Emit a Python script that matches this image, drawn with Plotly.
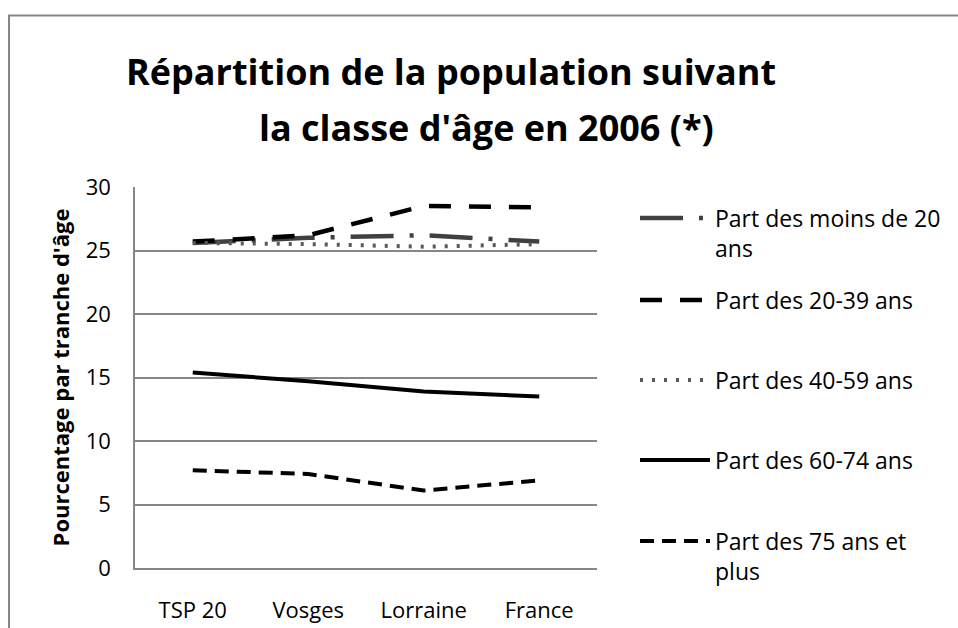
import plotly.graph_objects as go

categories = ["TSP 20", "Vosges", "Lorraine", "France"]
moins_20 = [25.6, 26.0, 26.2, 25.7]
ans_20_39 = [25.7, 26.2, 28.5, 28.4]
ans_40_59 = [25.6, 25.5, 25.3, 25.5]
ans_60_74 = [15.4, 14.7, 13.9, 13.5]
ans_75_plus = [7.7, 7.4, 6.1, 6.9]
y_ticks = [0, 5, 10, 15, 20, 25, 30]

names = ["Part des moins de 20<br>ans", "Part des 20-39 ans", "Part des 40-59 ans",
         "Part des 60-74 ans", "Part des 75 ans et<br>plus"]
series = [moins_20, ans_20_39, ans_40_59, ans_60_74, ans_75_plus]
styles = [
    dict(color="#404040", width=4.5, dash="43px,16px,4px,16px"),
    dict(color="#000000", width=4.5, dash="22px,18px"),
    dict(color="#595959", width=4, dash="3px,9px"),
    dict(color="#000000", width=4),
    dict(color="#000000", width=4, dash="14px,8px"),
]
legend_keys = ["legend", "legend2", "legend3", "legend4", "legend5"]
legend_y = [233, 300, 380, 460, 556]

W, H = 958, 628
fig = go.Figure()
for n, s, st, lk in zip(names, series, styles, legend_keys):
    fig.add_trace(go.Scatter(x=categories, y=s, mode="lines", name=n, line=st,
                             legend=lk))

font = "Open Sans, DejaVu Sans, sans-serif"
legends = {}
for lk, ly in zip(legend_keys, legend_y):
    legends[lk] = dict(x=635 / W, y=1 - ly / H, xanchor="left", yanchor="middle",
                       font=dict(size=23, color="black"), itemwidth=70, valign="top",
                       bgcolor="rgba(0,0,0,0)")

fig.update_layout(
    width=W, height=H,
    margin=dict(l=0, r=0, t=0, b=0, autoexpand=False),
    paper_bgcolor="white", plot_bgcolor="white",
    font=dict(family=font, size=22, color="black"),
    showlegend=True,
    xaxis=dict(domain=[135 / W, 597 / W], range=[-0.5, 3.5], showgrid=False,
               showline=True, linecolor="#868686", linewidth=1.5, ticks="",
               tickfont=dict(size=22), ticklabelstandoff=22, automargin=False),
    yaxis=dict(domain=[1 - 568 / H, 1 - 187 / H], range=[0, 30], tickvals=y_ticks,
               showgrid=True, gridcolor="#868686", gridwidth=1.5,
               showline=True, linecolor="#868686", linewidth=1.5, ticks="",
               tickfont=dict(size=22), ticklabelstandoff=18, zeroline=False,
               automargin=False,
               title=dict(text="<b>Pourcentage par tranche d'âge</b>",
                          font=dict(size=22), standoff=10)),
    shapes=[dict(type="rect", xref="paper", yref="paper",
                 x0=9 / W, x1=1.05, y0=-0.05, y1=1 - 15.5 / H,
                 line=dict(color="#868686", width=2))],
    annotations=[
        dict(text="<b>Répartition de la population suivant</b>", x=451 / W, y=1 - 72 / H,
             xref="paper", yref="paper", showarrow=False, xanchor="center", yanchor="middle",
             font=dict(size=36, color="black")),
        dict(text="<b>la classe d'âge en 2006 (*)</b>", x=486 / W, y=1 - 128 / H,
             xref="paper", yref="paper", showarrow=False, xanchor="center", yanchor="middle",
             font=dict(size=36, color="black")),
    ],
    **legends,
)
fig.write_html("out.html", config={"displayModeBar": False},
               post_script="document.body.style.margin='0';document.body.style.overflow='hidden';")
